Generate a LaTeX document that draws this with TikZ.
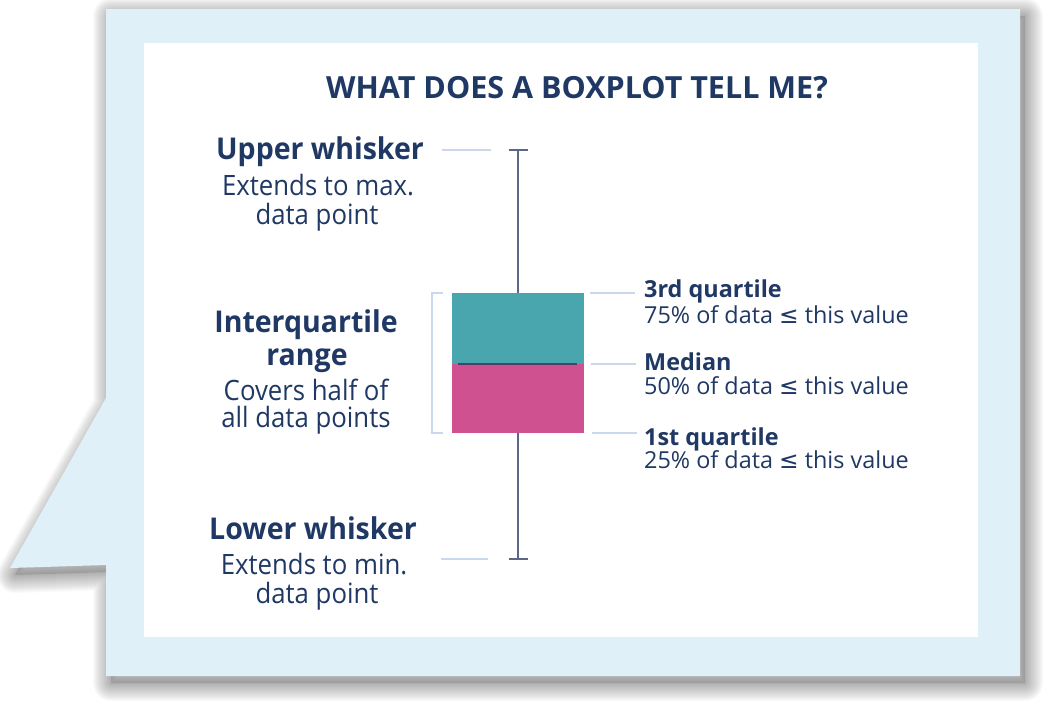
\documentclass[tikz,border=0pt]{standalone}
\usepackage{fontspec}
\setmainfont{Open Sans}
\newfontfamily\symfont{DejaVu Sans}
\newfontfamily\headfont[FakeStretch=0.95]{Open Sans}
\newfontfamily\notefont[FakeStretch=0.92]{Open Sans}
\definecolor{navy}{HTML}{1F3864}
\definecolor{panel}{HTML}{E0F0F9}
\definecolor{boxteal}{HTML}{4AA6AE}
\definecolor{boxpink}{HTML}{D05190}
\definecolor{whiskerline}{HTML}{5B6785}
\definecolor{leaderblue}{HTML}{C9D8EC}
\definecolor{medianline}{HTML}{4B3F6B}
\newcommand\lesssign{{\symfont ≤}}
% speech-bubble outline, in pixel units
\newcommand\bubblefill[1]{\path[#1] (106,9) -- (1020,9) -- (1020,676) -- (106,676)
  -- (106,565) -- (10,568) -- (106,398) -- cycle;}
\begin{document}
\begin{tikzpicture}[x=1pt,y=-1pt,
  heading/.style={text=navy, font=\headfont\bfseries\fontsize{30}{30}\selectfont, inner sep=0pt, anchor=base},
  note/.style={text=navy, font=\notefont\fontsize{28}{28}\selectfont, inner sep=0pt, anchor=base},
  title/.style={text=navy, font=\bfseries\fontsize{30.5}{30.5}\selectfont, inner sep=0pt, anchor=base},
  rhead/.style={text=navy, font=\bfseries\fontsize{23.4}{23.4}\selectfont, inner sep=0pt, anchor=base west},
  rnote/.style={text=navy, font=\fontsize{23.4}{23.4}\selectfont, inner sep=0pt, anchor=base west},
  leader/.style={draw=leaderblue, line width=1.3pt},
  whisk/.style={draw=whiskerline, line width=1.8pt}]
\useasboundingbox (0,0) rectangle (1049,705);

% soft drop shadow of the bubble: a faint base fill plus widening faint outlines
\bubblefill{fill=black, fill opacity=0.12, shift={(5,7)}}
\foreach \w in {2,4,...,36}{
  \bubblefill{draw=black, draw opacity=0.018, line width=\w pt, line join=round, shift={(5,7)}}
}
% bubble and white card
\bubblefill{fill=panel}
\fill[white] (144,43) rectangle (978,637);

% title
\node[title] (title) at (577,98) {WHAT DOES A BOXPLOT TELL ME?};

% left-hand labels
\node[heading] (uw) at (320,159) {Upper whisker};
\node[note] (uw1) at (318,195) {Extends to max.};
\node[note] (uw2) at (317,224) {data point};

\node[heading] (iqr) at (306,332) {Interquartile};
\node[heading] (iqr1) at (307,365) {range};
\node[note] (iqr2) at (306,400) {Covers half of};
\node[note] (iqr3) at (306,427) {all data points};

\node[heading] (lw) at (313,539) {Lower whisker};
\node[note] (lw1) at (314,574) {Extends to min.};
\node[note] (lw2) at (317,603) {data point};

% right-hand labels
\node[rhead] (q3) at (644,297) {3rd quartile};
\node[rnote] (q3n) at (644,323) {75\% of data \lesssign\ this value};
\node[rhead] (med) at (644,370) {Median};
\node[rnote] (medn) at (644,394) {50\% of data \lesssign\ this value};
\node[rhead] (q1) at (644,445) {1st quartile};
\node[rnote] (q1n) at (644,468) {25\% of data \lesssign\ this value};

% box
\fill[boxteal] (452,293) rectangle (584,364);
\fill[boxpink] (452,364) rectangle (584,433);
\coordinate (medL) at (458,364);
\coordinate (medR) at (577,364);
\draw[medianline, line width=1.6pt] (medL) -- (medR);

% whiskers
\coordinate (wtop) at (518,150);
\coordinate (wbot) at (518,559);
\coordinate (boxtop) at (518,293);
\coordinate (boxbot) at (518,433);
\draw[whisk] (wtop) -- (boxtop);
\draw[whisk] (boxbot) -- (wbot);
\draw[whisk] ([xshift=-9.5]wtop) -- ([xshift=9.5]wtop);
\draw[whisk] ([xshift=-9.5]wbot) -- ([xshift=9.5]wbot);

% leader lines
\coordinate (luA) at (442,150); \coordinate (luB) at (491,150);
\coordinate (llA) at (441,559); \coordinate (llB) at (488,559);
\draw[leader] (luA) -- (luB);
\draw[leader] (llA) -- (llB);
\coordinate (r3A) at (590,293); \coordinate (r3B) at (635,293);
\coordinate (rmA) at (591,364); \coordinate (rmB) at (636,364);
\coordinate (r1A) at (592,433); \coordinate (r1B) at (637,433);
\draw[leader] (r3A) -- (r3B);
\draw[leader] (rmA) -- (rmB);
\draw[leader] (r1A) -- (r1B);
% bracket spanning the box
\coordinate (brT) at (443,293); \coordinate (brB) at (443,433);
\draw[leader] (brT) -- ++(-11,0) |- (brB);
\end{tikzpicture}
\end{document}
